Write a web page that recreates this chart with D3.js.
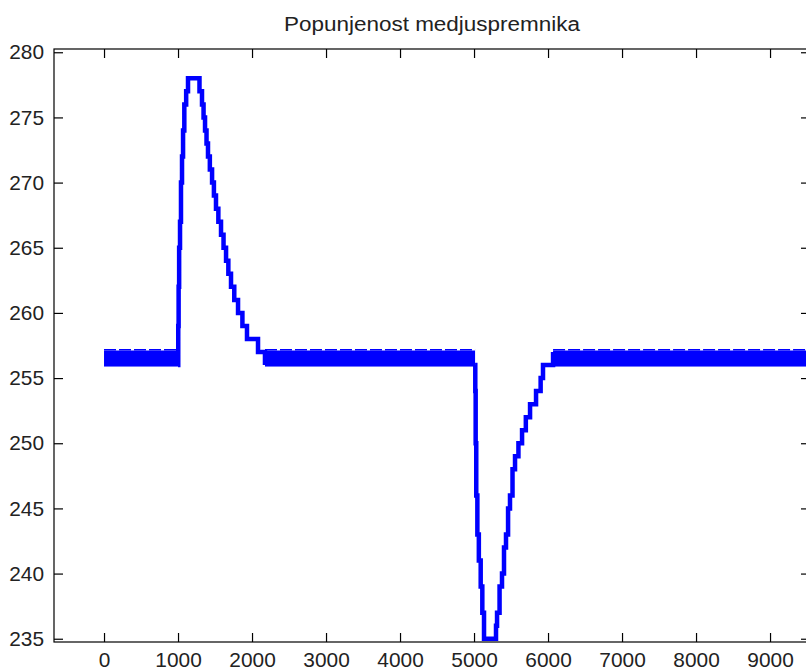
<!DOCTYPE html>
<html>
<head>
<meta charset="utf-8">
<script src="https://cdn.jsdelivr.net/npm/d3@7"></script>
<style>
  body { margin: 0; background: #fff; }
  svg { display: block; }
</style>
</head>
<body>
<div id="chart"></div>
<script>
// chart values
const chartTitle = 'Popunjenost medjuspremnika';
const xTicks = [0, 1000, 2000, 3000, 4000, 5000, 6000, 7000, 8000, 9000];
const yTicks = [235, 240, 245, 250, 255, 260, 265, 270, 275, 280];

// stretches where the level toggles fast between 256 and 257
const bandStart = [0, 2175, 6068];
const bandEnd = [1000, 5014, 9600];
const bandLow = 256;
const bandHigh = 257;

// overshoot around t = 1000
const peakT = [1000, 1003, 1008, 1015, 1027, 1040, 1054, 1068, 1085, 1110, 1135, 1290, 1324, 1345, 1365, 1385, 1405, 1430, 1460, 1485, 1513, 1545, 1581, 1615, 1649, 1680, 1716, 1760, 1811, 1870, 1932, 2081, 2175];
const peakV = [256, 259, 262, 265, 267, 270, 272, 274, 276, 277, 278, 277, 276, 275, 274, 273, 272, 271, 270, 269, 268, 267, 266, 265, 264, 263, 262, 261, 260, 259, 258, 257, 256];

// undershoot around t = 5000
const dipT = [5014, 5017, 5022, 5030, 5045, 5065, 5090, 5112, 5135, 5297, 5311, 5345, 5378, 5405, 5432, 5460, 5486, 5520, 5554, 5600, 5649, 5700, 5757, 5838, 5900, 5932, 6068];
const dipV = [256, 254, 250, 246, 243, 241, 239, 237, 235, 236, 237, 239, 240, 242, 243, 245, 246, 248, 249, 250, 251, 252, 253, 254, 255, 256, 257];

const W = 806, H = 672;
const mLeft = 54, mTop = 49, mRight = 810, mBottom = 642;
const blue = '#0000ff';

const svg = d3.select('#chart').append('svg')
	.attr('width', W)
	.attr('height', H)
	.style('font-family', "'Liberation Sans', Arial, sans-serif");

const xScale = d3.scaleLinear()
	.domain([-676, 9540])
	.range([mLeft, mRight]);

const yScale = d3.scaleLinear()
	.domain([234.75, 280.25])
	.range([mBottom, mTop]);

const plot = svg.append('g');

// the fast toggling band
const bands = bandStart.map((s, i) => ({ s: s, e: bandEnd[i] }));

plot.selectAll('rect.band')
	.data(bands)
	.enter()
	.append('rect')
	.attr('class', 'band')
	.attr('x', (d) => xScale(d.s))
	.attr('y', yScale(bandHigh) - 1.5)
	.attr('width', (d) => xScale(d.e) - xScale(d.s))
	.attr('height', yScale(bandLow) - yScale(bandHigh) + 3)
	.attr('fill', blue);

// little notches on the top edge of the band
plot.selectAll('line.notch')
	.data(bands)
	.enter()
	.append('line')
	.attr('class', 'notch')
	.attr('x1', (d) => xScale(d.s))
	.attr('x2', (d) => xScale(d.e))
	.attr('y1', yScale(bandHigh) - 2.2)
	.attr('y2', yScale(bandHigh) - 2.2)
	.style('stroke', blue)
	.style('stroke-width', 1.5)
	.style('stroke-dasharray', '12 3');

const line = d3.line()
	.x((d) => xScale(d[0]))
	.y((d) => yScale(d[1]))
	.curve(d3.curveStepAfter);

[[peakT, peakV], [dipT, dipV]].forEach(function (s) {
	plot.append('path')
		.datum(s[0].map((t, i) => [t, s[1][i]]))
		.attr('d', line)
		.attr('fill', 'none')
		.style('stroke', blue)
		.style('stroke-width', 4.5)
		.style('stroke-linejoin', 'miter');
});

// axes box, MATLAB style with ticks inside
const axisG = svg.append('g');

axisG.append('rect')
	.attr('x', mLeft)
	.attr('y', mTop)
	.attr('width', mRight - mLeft)
	.attr('height', mBottom - mTop)
	.attr('fill', 'none')
	.style('stroke', '#000')
	.style('stroke-width', 1.2);

const tickLen = 9;

axisG.append('g')
	.attr('transform', `translate(0, ${mBottom})`)
	.call(d3.axisBottom(xScale).tickValues(xTicks).tickFormat(d3.format('d'))
		.tickSizeInner(-tickLen).tickSizeOuter(0).tickPadding(10))
	.attr('class', 'axis');

axisG.append('g')
	.attr('transform', `translate(0, ${mTop})`)
	.call(d3.axisTop(xScale).tickValues(xTicks).tickSizeInner(-tickLen).tickSizeOuter(0).tickFormat(''))
	.attr('class', 'axis');

axisG.append('g')
	.attr('transform', `translate(${mLeft}, 0)`)
	.call(d3.axisLeft(yScale).tickValues(yTicks).tickSizeInner(-tickLen).tickSizeOuter(0).tickPadding(10))
	.attr('class', 'axis');

axisG.append('g')
	.attr('transform', `translate(${mRight}, 0)`)
	.call(d3.axisRight(yScale).tickValues(yTicks).tickSizeInner(-tickLen).tickSizeOuter(0).tickFormat(''))
	.attr('class', 'axis');

d3.selectAll('.axis path')
	.style('stroke-width', 0);

d3.selectAll('.axis .tick line')
	.style('stroke', '#000')
	.style('stroke-width', 1.2);

d3.selectAll('.axis text')
	.style('font-size', '21px')
	.style('fill', '#222')
	.style('font-family', "'Liberation Sans', Arial, sans-serif")
	.attr('lengthAdjust', 'spacingAndGlyphs')
	.attr('textLength', function () { return this.textContent.length * 11.6; });

svg.append('text')
	.attr('x', (mLeft + mRight) / 2)
	.attr('y', 31)
	.attr('text-anchor', 'middle')
	.attr('lengthAdjust', 'spacingAndGlyphs')
	.attr('textLength', 296)
	.style('font-size', '20px')
	.style('fill', '#222')
	.text(chartTitle);
</script>
</body>
</html>
